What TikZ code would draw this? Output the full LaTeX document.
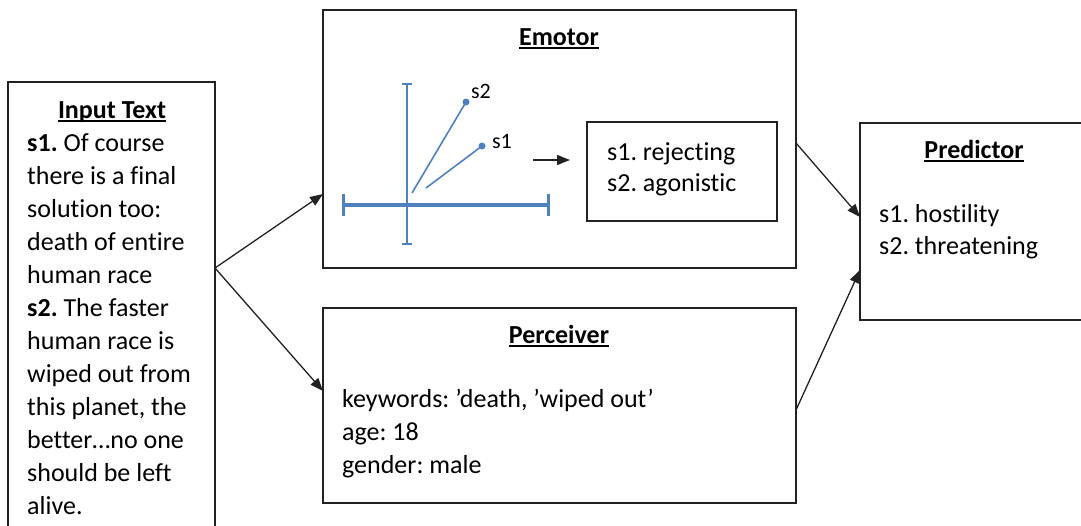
\documentclass[tikz,border=0pt]{standalone}
\usepackage{fontspec}
\setmainfont{Carlito}[Ligatures=NoCommon]
\usetikzlibrary{arrows.meta}
\definecolor{axblue}{HTML}{4F81BD}
\definecolor{boxgray}{HTML}{222222}
\newcommand\myul[1]{\setbox0\hbox{#1}\rlap{\rule[-3.5pt]{\wd0}{1.6pt}}\box0}
\frenchspacing
\begin{document}
\begin{tikzpicture}[x=1pt,y=-1pt,
  box/.style={draw=boxgray, line width=1.3pt, inner sep=0pt, outer sep=0pt},
  txt/.style={inner sep=0pt, font=\fontsize{26}{33}\selectfont, text=black},
  ttl/.style={inner sep=0pt, font=\fontsize{26}{33}\selectfont\bfseries, text=black},
  arr/.style={draw=boxgray, line width=1.3pt, -{Triangle[length=13pt,width=10pt]}},
  vec/.style={draw=axblue, line width=1.6pt},
  lbl/.style={inner sep=0pt, font=\fontsize{22}{26}\selectfont, text=black}]
\useasboundingbox (0,0) rectangle (1081,525);

% boxes
\node[box, minimum width=207pt, minimum height=463pt] (input) at (111.5,313.5) {};
\node[box, minimum width=473pt, minimum height=258pt] (emotor) at (559.5,139) {};
\node[box, minimum width=190pt, minimum height=99pt] (inner) at (682,171.5) {};
\node[box, minimum width=473pt, minimum height=195pt] (perceiver) at (559.5,405.5) {};
\node[box, minimum width=235pt, minimum height=197pt] (predictor) at (977.5,221.5) {};

% Input text
\node[ttl, anchor=base] (intitle) at (112,118) {\myul{Input Text}};
\foreach \t [count=\i from 0] in {{\textbf{s1.} Of course},{there is a final},{solution too:},{death of entire},{human race},{\textbf{s2.} The faster},{human race is},{wiped out from},{this planet, the},{better…no one},{should be left},{alive.}}
  \node[txt, anchor=base west] (inl\i) at (27,151+33*\i) {\t};

% Emotor
\node[ttl, anchor=base] (emtitle) at (559,45) {\myul{Emotor}};
\node[txt, anchor=base west] (em1) at (607,160) {s1. rejecting};
\node[txt, anchor=base west] (em2) at (607,191) {s2. agonistic};

% axes
\coordinate (axl) at (342,205);
\coordinate (axr) at (550,205);
\coordinate (axt) at (407,83);
\coordinate (axb) at (407,245);
\draw[draw=axblue, line width=4pt, {Bar[width=22pt,line width=3pt]}-{Bar[width=22pt,line width=3pt]}] (axl) -- (axr);
\draw[draw=axblue, line width=2.6pt, {Bar[width=10pt,line width=2.2pt]}-{Bar[width=10pt,line width=2.2pt]}] (axt) -- (axb);
\coordinate (o2) at (412,193);
\coordinate (p2) at (466,102);
\coordinate (o1) at (426,188);
\coordinate (p1) at (482,146);
\draw[vec] (o2) -- (p2);
\draw[vec] (o1) -- (p1);
\fill[axblue] (p2) circle[radius=3.5pt];
\fill[axblue] (p1) circle[radius=3.5pt];
\node[lbl] (ls2) at (481,91) {s2};
\node[lbl] (ls1) at (502,141) {s1};

% Perceiver
\node[ttl, anchor=base] (pertitle) at (559,343) {\myul{Perceiver}};
\node[txt, anchor=base west] (pe1) at (342,407) {keywords: ’death, ’wiped out’};
\node[txt, anchor=base west] (pe2) at (342,440) {age: 18};
\node[txt, anchor=base west] (pe3) at (342,473) {gender: male};

% Predictor
\node[ttl, anchor=base] (prtitle) at (974,158) {\myul{Predictor}};
\node[txt, anchor=base west] (pr1) at (879,222) {s1. hostility};
\node[txt, anchor=base west] (pr2) at (879,254) {s2. threatening};

% connectors
\coordinate (sa) at (533,160);
\draw[arr] (sa) -- ([xshift=-17pt,yshift=11.5pt]inner.west);
\draw[arr] ([yshift=-186pt]input.north east) -- ([yshift=74pt]emotor.south west);
\draw[arr] ([yshift=-186pt]input.north east) -- ([yshift=-83pt]perceiver.north west);
\draw[arr] ([yshift=-133pt]emotor.north east) -- ([yshift=-94pt]predictor.north west);
\draw[arr] ([yshift=-102pt]perceiver.north east) -- ([yshift=-147pt]predictor.north west);
\end{tikzpicture}
\end{document}
